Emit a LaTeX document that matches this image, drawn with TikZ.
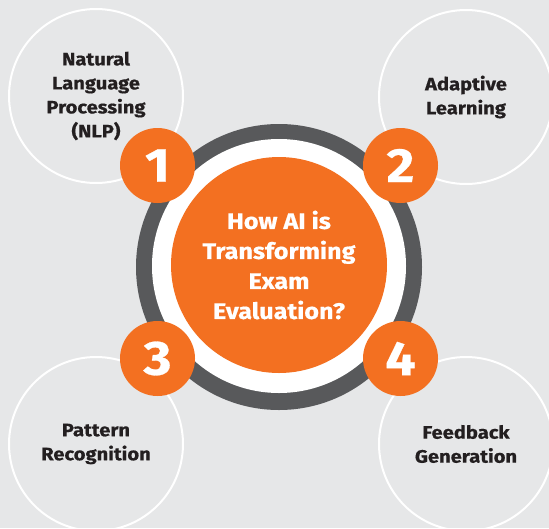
\documentclass[tikz,border=0pt]{standalone}
\usepackage{fontspec}
\setmainfont{Fira Sans}[BoldFeatures={FakeStretch=1.12,FakeBold=0.6}]
\definecolor{bggray}{HTML}{E6E7E8}
\definecolor{ringgray}{HTML}{58595B}
\definecolor{accent}{HTML}{F37021}
\definecolor{inktext}{HTML}{231F20}
\begin{document}
\begin{tikzpicture}[x=1pt,y=-1pt,
  topic/.style={circle,draw=white,line width=2pt,minimum size=174pt,inner sep=0pt},
  topiclabel/.style={align=center,text=inktext,font=\fontsize{18}{24}\selectfont\bfseries},
  badge/.style={circle,fill=accent,minimum size=75pt,inner sep=0pt,text=white,
    font=\fontsize{48}{48}\selectfont\bfseries},
  hub/.style={circle,fill=accent,minimum size=216pt,inner sep=0pt},
  hublabel/.style={align=center,text=white,font=\fontsize{22.5}{30}\selectfont\bfseries}]
  % canvas
  \fill[bggray] (0,0) rectangle (549,528);
  \useasboundingbox (0,0) rectangle (549,528);
  % outer topic circles
  \node[topic] (t1) at (96,96) {};
  \node[topic] (t2) at (466,97) {};
  \node[topic] (t3) at (96,444) {};
  \node[topic] (t4) at (466,444) {};
  \node[topiclabel] at (t1) {Natural\\Language\\Processing\\(NLP)};
  \node[topiclabel] at (t2) {Adaptive\\Learning};
  \node[topiclabel] at (t3) {Pattern\\Recognition};
  \node[topiclabel] at (t4) {Feedback\\Generation};
  % central ring and hub
  \fill[ringgray] (279,267) circle[radius=143];
  \fill[white] (279,266) circle[radius=127];
  \node[hub] (hub) at (279,265) {};
  \node[hublabel] at (hub) {How AI is\\Transforming\\Exam\\Evaluation?};
  % numbered badges
  \node[badge] (b1) at (157.5,165.5) {1};
  \node[badge] (b2) at (400.5,165.5) {2};
  \node[badge] (b3) at (157.5,358.5) {3};
  \node[badge] (b4) at (400.5,358.5) {4};
\end{tikzpicture}
\end{document}
